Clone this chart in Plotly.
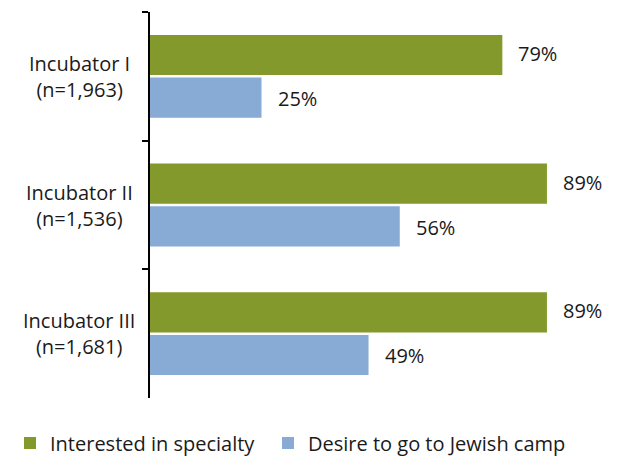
import plotly.graph_objects as go

# Survey results by incubator cohort
categories = ["Incubator I", "Incubator II", "Incubator III"]
sample_sizes = ["n=1,963", "n=1,536", "n=1,681"]
interested_specialty = [79, 89, 89]
jewish_camp_desire = [25, 56, 49]

series_names = ["Interested in specialty", "Desire to go to Jewish camp"]
series_colors = ["#83992b", "#87abd4"]

FONT = "Open Sans"
TEXT_COLOR = "#1a1a1a"
W, H = 620, 459
M_L, M_R, M_T, M_B = 150, 24, 12, 61
X_MAX = 100

fig = go.Figure()
for i, (name, vals, color) in enumerate(zip(series_names, [interested_specialty, jewish_camp_desire], series_colors)):
    fig.add_trace(go.Bar(
        y=categories,
        x=vals,
        name=name,
        orientation="h",
        marker=dict(color=color, line=dict(width=0)),
        hoverinfo="skip",
        legend="legend" if i == 0 else "legend2",
    ))

# Value labels to the right of each bar (green bar sits above the blue one)
annotations = []
for vals, yshift in [(interested_specialty, 23), (jewish_camp_desire, -22)]:
    for cat, v in zip(categories, vals):
        annotations.append(dict(
            x=v, y=cat, xref="x", yref="y",
            text=f"{v}%", showarrow=False,
            xanchor="left", yanchor="middle",
            xshift=14, yshift=yshift,
            font=dict(family=FONT, size=20, color=TEXT_COLOR),
        ))

# Centered two-line category labels
plot_w = W - M_L - M_R
label_center_x = (79 - M_L) / plot_w
for cat, n in zip(categories, sample_sizes):
    annotations.append(dict(
        x=label_center_x, y=cat, xref="paper", yref="y",
        text=f"{cat}<br>({n})", showarrow=False,
        xanchor="center", yanchor="middle", align="center",
        font=dict(family=FONT, size=20, color=TEXT_COLOR),
    ))

legend_common = dict(
    orientation="h",
    xref="container", yref="container",
    xanchor="left", yanchor="middle",
    y=1 - 443 / H,
    font=dict(family=FONT, size=20, color=TEXT_COLOR),
    itemwidth=30,
    bgcolor="rgba(0,0,0,0)",
)

fig.update_layout(
    width=W, height=H,
    margin=dict(l=M_L, r=M_R, t=M_T, b=M_B, autoexpand=False),
    paper_bgcolor="white", plot_bgcolor="white",
    barmode="group",
    bargap=0.336,
    bargroupgap=0.06,
    font=dict(family=FONT, size=20, color=TEXT_COLOR),
    annotations=annotations,
    showlegend=True,
    legend=dict(legend_common, x=10 / W),
    legend2=dict(legend_common, x=268 / W),
    xaxis=dict(range=[0, X_MAX], visible=False, fixedrange=True),
    yaxis=dict(
        autorange="reversed",
        showticklabels=False,
        showline=True, linecolor="black", linewidth=2,
        ticks="outside", tickson="boundaries", ticklen=6,
        tickcolor="black", tickwidth=2,
        showgrid=False, zeroline=False,
    ),
)

fig.write_html("out.html")
